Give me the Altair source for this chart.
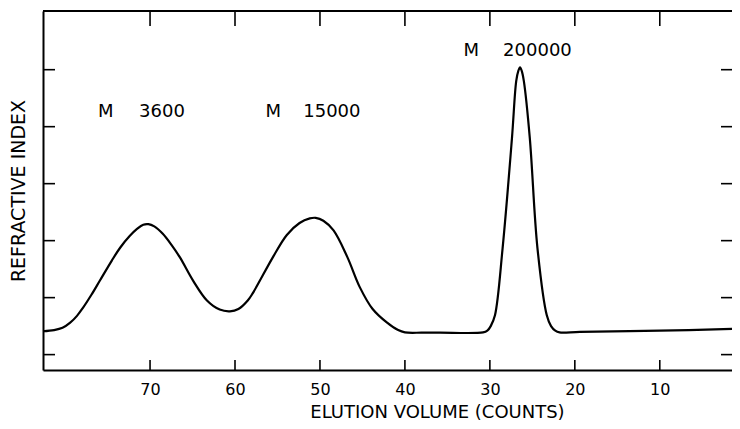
import altair as alt
import pandas as pd

# Elution curve (counts, refractive index signal)
elution = [82.6, 81.3, 80.3, 79.4, 78.6, 77.9, 76.9, 75.9, 74.5, 73.5, 72.4, 71.5, 70.8,
           70.2, 69.5, 68.5, 67.5, 66.5, 64.9, 63.3, 61.8, 60.6, 59.6, 58.5, 57.9, 55.5,
           53.9, 52.4, 51.2, 50.5, 49.6, 48.4, 46.8, 45.3, 43.8, 42.1, 40.8, 40.0, 38.0,
           35.9, 30.8, 30.3, 29.9, 29.4, 28.5, 27.4, 26.9, 26.65, 26.45, 26.25, 26.0,
           25.3, 24.4, 23.3, 22.8, 22.3, 21.8, 19.4, 10.0, 1.5]
signal = [0.41, 0.43, 0.47, 0.56, 0.68, 0.82, 1.05, 1.30, 1.65, 1.88, 2.08, 2.21, 2.28,
          2.29, 2.25, 2.12, 1.93, 1.71, 1.29, 0.95, 0.79, 0.76, 0.80, 0.95, 1.08, 1.72,
          2.10, 2.31, 2.39, 2.40, 2.35, 2.18, 1.72, 1.18, 0.80, 0.56, 0.43, 0.39, 0.385,
          0.385, 0.39, 0.42, 0.50, 0.69, 1.87, 3.80, 4.80, 4.98, 5.04, 4.98, 4.80,
          3.80, 1.87, 0.69, 0.50, 0.42, 0.39, 0.40, 0.42, 0.45]

x_ticks = [70, 60, 50, 40, 30, 20, 10]
y_ticks = [0, 1, 2, 3, 4, 5]

ann_text = ["M", "3600", "M", "15000", "M", "200000"]
ann_x = [75.2, 68.6, 55.5, 48.6, 32.2, 24.4]
ann_y = [4.25, 4.25, 4.25, 4.25, 5.33, 5.33]

W, H = 689, 359
FONT = "DejaVu Sans"

xscale = alt.Scale(domain=[82.6, 1.5], nice=False, zero=False)
yscale = alt.Scale(domain=[-0.27, 6.03], nice=False, zero=False)

curve_df = pd.DataFrame({"x": elution, "y": signal})
xt_df = pd.DataFrame({"v": x_ticks})
yt_df = pd.DataFrame({"v": y_ticks})
ann_df = pd.DataFrame({"t": ann_text, "x": ann_x, "y": ann_y})

line = alt.Chart(curve_df).mark_line(color="black", strokeWidth=2.2, interpolate="catmull-rom").encode(
    x=alt.X("x:Q", scale=xscale,
            axis=alt.Axis(title="ELUTION VOLUME (COUNTS)", values=x_ticks, ticks=False,
                          grid=False, labelPadding=11, labelFontSize=16, labelFont=FONT,
                          labelColor="black", domainColor="black", domainWidth=2,
                          titleFont=FONT, titleFontSize=18, titleFontWeight="normal",
                          titleColor="black", titleX=394, titleY=47,
                          titleBaseline="alphabetic", titleAlign="center")),
    y=alt.Y("y:Q", scale=yscale,
            axis=alt.Axis(title="REFRACTIVE INDEX", labels=False, ticks=False, grid=False,
                          domainColor="black", domainWidth=2, titlePadding=15,
                          titleFont=FONT, titleFontSize=19, titleFontWeight="normal",
                          titleColor="black")),
)

bottom_ticks = alt.Chart(xt_df).mark_rule(color="black", strokeWidth=1.6).encode(
    x=alt.X("v:Q", scale=xscale), y=alt.value(H), y2=alt.value(H - 10))
top_ticks = alt.Chart(xt_df).mark_rule(color="black", strokeWidth=1.6).encode(
    x=alt.X("v:Q", scale=xscale), y=alt.value(0), y2=alt.value(15))
left_ticks = alt.Chart(yt_df).mark_rule(color="black", strokeWidth=1.6).encode(
    y=alt.Y("v:Q", scale=yscale), x=alt.value(0), x2=alt.value(12))
right_ticks = alt.Chart(yt_df).mark_rule(color="black", strokeWidth=1.6).encode(
    y=alt.Y("v:Q", scale=yscale), x=alt.value(W), x2=alt.value(W - 11))
top_border = alt.Chart(xt_df.head(1)).mark_rule(color="black", strokeWidth=2).encode(
    x=alt.value(0), x2=alt.value(W), y=alt.value(0))

labels = alt.Chart(ann_df).mark_text(font=FONT, fontSize=18, color="black",
                                     align="center", baseline="middle").encode(
    x=alt.X("x:Q", scale=xscale), y=alt.Y("y:Q", scale=yscale), text="t:N")

chart = alt.layer(line, bottom_ticks, top_ticks, left_ticks, right_ticks, top_border, labels).properties(
    width=W, height=H,
    autosize=alt.AutoSizeParams(type="none"),
    padding={"left": 35, "top": 3, "right": 0, "bottom": 51},
).configure_view(stroke=None).configure(background="white")

chart.save("out.html", embed_options={"renderer": "svg", "actions": False})
